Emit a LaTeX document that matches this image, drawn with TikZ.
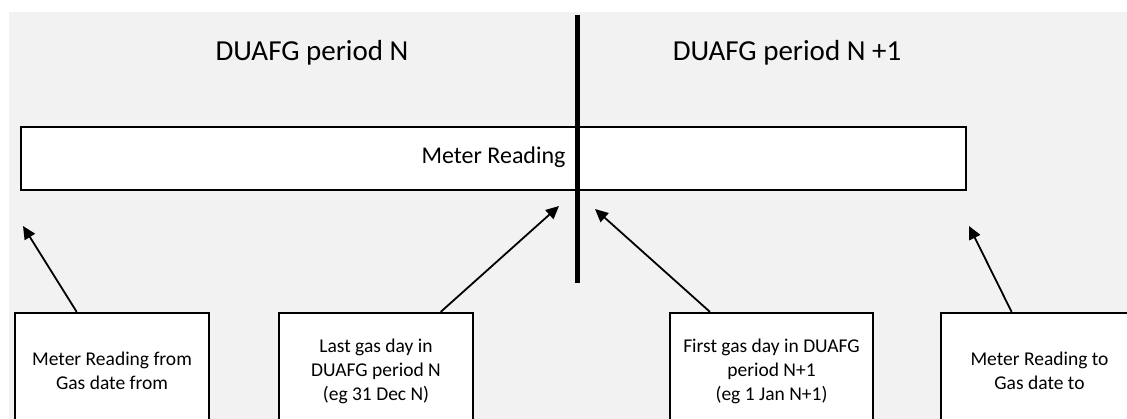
\documentclass[tikz,border=0pt]{standalone}
\usepackage{fontspec}
\setmainfont{Carlito}
\usetikzlibrary{positioning,arrows.meta,calc}
\definecolor{bggray}{RGB}{242,242,242}

\begin{document}
\begin{tikzpicture}[x=1pt, y=-1pt,
  b/.style={draw, line width=2.3pt, fill=white, align=center, inner sep=0pt, font=\fontsize{19.5}{24}\selectfont, minimum width=194pt, minimum height=116pt},
  a/.style={-{Triangle[length=13pt, width=12pt]}, line width=1.8pt},
  t/.style={anchor=base, font=\fontsize{29}{34}\selectfont}]
\useasboundingbox (0,0) rectangle (1127,419);
\clip (0,0) rectangle (1127,419);
\fill[bggray] (9,12) rectangle (1127,419);
% periods
\node[t] (pn) at (312,61) {DUAFG period N};
\node[t] (pn1) at (787,61) {DUAFG period N +1};
\node[b, minimum width=945pt, minimum height=63pt, text depth=6pt, font=\fontsize{24}{28}\selectfont] (bar) at (493.5,158.5) {Meter Reading};
\coordinate (dtop) at (577,15);
\coordinate (dbot) at (577,283);
\draw[line width=5pt] (dtop) -- (dbot);
% boxes
\node[b] (b1) at (112,371) {Meter Reading from\\ Gas date from};
\node[b] (b2) at (376,371) {Last gas day in\\ DUAFG period N\\ (eg 31 Dec N)};
\node[b, minimum width=203pt] (b3) at (771.5,371) {First gas day in DUAFG\\ period N+1\\ (eg 1 Jan N+1)};
\node[b, minimum width=197pt] (b4) at (1039.5,371) {Meter Reading to\\ Gas date to};
\coordinate (t1) at (23,226);
\coordinate (t2) at (559,206);
\coordinate (t3) at (595,209);
\coordinate (t4) at (969,226);
\foreach \n/\f in {1/0.32, 2/0.83, 3/0.2, 4/0.36} {\draw[a] ($(b\n.north west)!\f!(b\n.north east)$) -- (t\n);}
\end{tikzpicture}
\end{document}
